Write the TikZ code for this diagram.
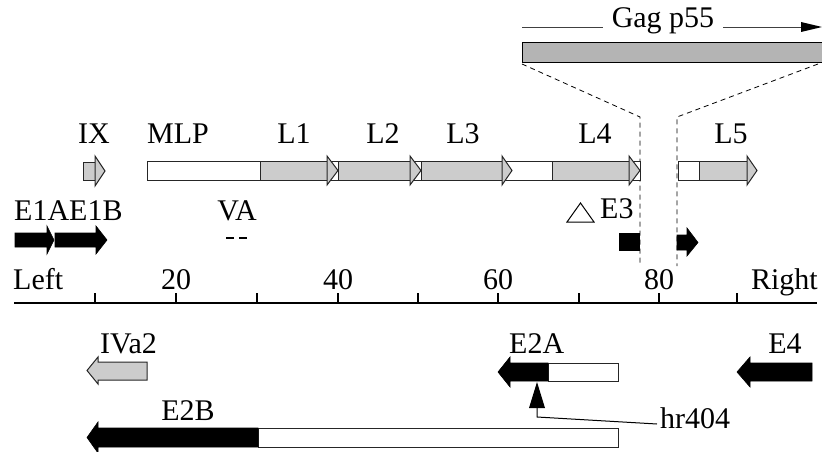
\documentclass[tikz,border=0pt]{standalone}
\usepackage{fontspec}
\setmainfont{Liberation Serif}
\usetikzlibrary{arrows.meta}
\definecolor{lgray}{RGB}{204,204,204}
\definecolor{ggray}{RGB}{180,180,180}
\begin{document}
\begin{tikzpicture}[x=1pt,y=-1pt,
  lbl/.style={font=\fontsize{30pt}{36pt}\selectfont, inner sep=0pt, anchor=base},
  box/.style={draw=black!85, line width=1pt},
  gbox/.style={box, fill=lgray},
  wbox/.style={box, fill=white},
  bk/.style={draw=black, fill=black, line width=0.6pt},
  dsh/.style={dash pattern=on 5pt off 4pt, line width=0.8pt},
  axisline/.style={line width=1.4pt},
  ]
\useasboundingbox (0,0) rectangle (822,452);

% ---------- Gag p55 ----------
\node[lbl, inner xsep=9pt] (gag) at (663,28) {Gag p55};
\coordinate (gagS) at (522,27);
\coordinate (gagE) at (822,27);
\draw[line width=0.8pt, black!75] (gagS) -- (gag.west |- gagS);
\draw[line width=0.8pt, black!75] (gag.east |- gagS) -- (802,27);
\fill (gagE) -- (801,22) -- (801,32) -- cycle;
\draw[line width=1pt, fill=ggray] (522,43) rectangle (826,63);

% dashed zoom lines
\draw[dsh] (522,64) -- (640,117) -- (640,266);
\draw[dsh] (818,64) -- (677,117) -- (677,266);

% ---------- L row ----------
\node[lbl] (ix)  at (94,143)  {IX};
\node[lbl] (mlp) at (178,143) {MLP};
\node[lbl] (l1)  at (294,143) {L1};
\node[lbl] (l2)  at (383,143) {L2};
\node[lbl] (l3)  at (463,143) {L3};
\node[lbl] (l4)  at (595,143) {L4};
\node[lbl] (l5)  at (731,143) {L5};

% IX
\draw[gbox] (83,162) rectangle (95,180);
\draw[gbox] (95,156) -- (105,171) -- (95,186) -- cycle;

% MLP - L4 bar
\draw[wbox] (147,161) rectangle (260,180);
\draw[gbox] (260,161) rectangle (327,180);
\draw[wbox] (327,161) rectangle (338,180);
\draw[gbox] (338,161) rectangle (410,180);
\draw[wbox] (410,161) rectangle (421,180);
\draw[gbox] (421,161) rectangle (502,180);
\draw[wbox] (502,161) rectangle (552,180);
\draw[gbox] (552,161) rectangle (629,180);
\draw[wbox] (629,161) rectangle (640,180);
\draw[gbox] (327,156) -- (338,170.5) -- (327,185) -- cycle;
\draw[gbox] (410,156) -- (421,170.5) -- (410,185) -- cycle;
\draw[gbox] (502,156) -- (512,170.5) -- (502,185) -- cycle;
\draw[gbox] (629,156) -- (640,170.5) -- (629,185) -- cycle;

% L5
\draw[wbox] (678,161) rectangle (699,180);
\draw[gbox] (699,161) rectangle (747,180);
\draw[gbox] (747,156) -- (757,170.5) -- (747,185) -- cycle;

% ---------- early genes (top strand) ----------
\node[lbl, anchor=base west] (e1) at (14,220) {E1AE1B};
\node[lbl] (va) at (237,220) {VA};
\node[lbl, anchor=base west] (e3) at (600,218) {E3};

\draw[bk] (15,233) -- (47,233) -- (47,226) -- (54,240) -- (47,254) -- (47,247) -- (15,247) -- cycle;
\draw[bk] (55,233) -- (96,233) -- (96,226) -- (107,240) -- (96,254) -- (96,247) -- (55,247) -- cycle;

\draw[line width=1.2pt, dash pattern=on 8pt off 5pt] (226,238) -- (248,238);

\draw[line width=1pt] (567,222) -- (594,222) -- (580.5,203) -- cycle;
\fill (619,233) rectangle (640,251);
\draw[bk] (677,235) -- (687,235) -- (687,228) -- (698,242.5) -- (687,256) -- (687,250) -- (677,250) -- cycle;

% ---------- axis ----------
\draw[axisline] (14,303) -- (817,303);
\foreach \t in {95,176,257,338,418,498,579,659,737}
  \draw[line width=1.2pt] (\t,293) -- (\t,303);
\node[lbl, anchor=base west] (left) at (13,289) {Left};
\node[lbl] (n20) at (176,289) {20};
\node[lbl] (n40) at (338,289) {40};
\node[lbl] (n60) at (498,289) {60};
\node[lbl] (n80) at (659,289) {80};
\node[lbl, anchor=base east] (right) at (818,289) {Right};

% ---------- bottom strand ----------
\node[lbl, anchor=base west] (iva2) at (100,353) {IVa2};
\node[lbl, anchor=base west] (e2a) at (509,353) {E2A};
\node[lbl] (e4) at (785,353) {E4};
\node[lbl] (e2b) at (188,420) {E2B};
\node[lbl, anchor=base west] (hr) at (660,428) {hr404};

\draw[gbox] (87,370.5) -- (98,357) -- (98,362) -- (147,362) -- (147,380) -- (98,380) -- (98,384) -- cycle;

\draw[wbox] (548,363) rectangle (618,381);
\draw[bk] (498,372) -- (510,357) -- (510,363) -- (548,363) -- (548,381) -- (510,381) -- (510,387) -- cycle;

\draw[bk] (737,372) -- (750,357) -- (750,363) -- (812,363) -- (812,381) -- (750,381) -- (750,387) -- cycle;

\draw[wbox] (258,428) rectangle (618,447);
\draw[bk] (87,437.5) -- (98,422) -- (98,428) -- (258,428) -- (258,447) -- (98,447) -- (98,453) -- cycle;

% hr404 pointer
\coordinate (hrtip) at (537,382);
\fill (hrtip) -- (545,408) -- (529,408) -- cycle;
\draw[line width=1pt] (537,407) -- (537,417) -- ([shift={(-3pt,4pt)}]hr.base west);
\end{tikzpicture}
\end{document}
